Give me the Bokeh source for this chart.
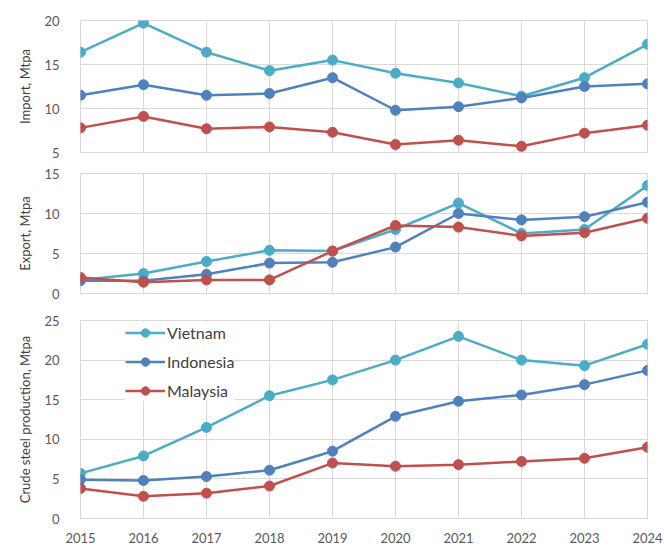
from bokeh.plotting import figure
from bokeh.layouts import column
from bokeh.models import Legend, LegendItem, FixedTicker, Range1d
from bokeh.embed import file_html
from bokeh.resources import INLINE

years = [2015, 2016, 2017, 2018, 2019, 2020, 2021, 2022, 2023, 2024]
countries = ["Vietnam", "Indonesia", "Malaysia"]
colors = {"Vietnam": "#4BACC6", "Indonesia": "#4F81BD", "Malaysia": "#C0504D"}

import_vietnam = [16.4, 19.7, 16.4, 14.3, 15.5, 14.0, 12.9, 11.4, 13.5, 17.3]
import_indonesia = [11.5, 12.7, 11.5, 11.7, 13.5, 9.8, 10.2, 11.2, 12.5, 12.8]
import_malaysia = [7.8, 9.1, 7.7, 7.9, 7.3, 5.9, 6.4, 5.7, 7.2, 8.1]

export_vietnam = [1.7, 2.5, 4.0, 5.4, 5.3, 8.0, 11.3, 7.5, 8.0, 13.5]
export_indonesia = [1.6, 1.6, 2.4, 3.8, 3.9, 5.8, 10.0, 9.2, 9.6, 11.4]
export_malaysia = [2.0, 1.4, 1.7, 1.7, 5.3, 8.5, 8.3, 7.2, 7.6, 9.4]

crude_vietnam = [5.7, 7.9, 11.5, 15.5, 17.5, 20.0, 23.0, 20.0, 19.3, 22.0]
crude_indonesia = [4.9, 4.8, 5.3, 6.1, 8.5, 12.9, 14.8, 15.6, 16.9, 18.7]
crude_malaysia = [3.8, 2.8, 3.2, 4.1, 7.0, 6.6, 6.8, 7.2, 7.6, 9.0]

panels = [
    ("Import, Mtpa", (5, 20), [5, 10, 15, 20],
     [import_vietnam, import_indonesia, import_malaysia]),
    ("Export, Mtpa", (0, 15), [0, 5, 10, 15],
     [export_vietnam, export_indonesia, export_malaysia]),
    ("Crude steel production, Mtpa", (0, 25), [0, 5, 10, 15, 20, 25],
     [crude_vietnam, crude_indonesia, crude_malaysia]),
]

FONT = "Lato"
frame_heights = [132, 120, 198]
tops = [20, 13, 19]
bottoms = [8, 8, 28]

figs = []
for i, (label, yr, yticks, series) in enumerate(panels):
    p = figure(frame_width=567, frame_height=frame_heights[i],
               min_border_left=80, min_border_right=17,
               min_border_top=tops[i], min_border_bottom=bottoms[i],
               x_range=Range1d(2015, 2024), y_range=Range1d(*yr),
               output_backend="svg", toolbar_location=None)
    p.background_fill_color = "white"
    p.border_fill_color = "white"
    p.outline_line_color = "#d9d9d9"
    p.xgrid.grid_line_color = "#d9d9d9"
    p.ygrid.grid_line_color = "#d9d9d9"
    p.xaxis.ticker = FixedTicker(ticks=years)
    p.yaxis.ticker = FixedTicker(ticks=yticks)
    p.yaxis.axis_label = label
    p.yaxis.axis_label_text_font = FONT
    p.yaxis.axis_label_text_font_style = "normal"
    p.yaxis.axis_label_text_font_size = "13px"
    p.yaxis.axis_label_text_color = "#404040"
    p.yaxis.axis_label_standoff = 8
    for ax in (p.xaxis, p.yaxis):
        ax.axis_line_color = None
        ax.major_tick_line_color = None
        ax.minor_tick_line_color = None
        ax.major_label_text_font = FONT
        ax.major_label_text_font_size = "13px"
        ax.major_label_text_color = "#595959"
    p.yaxis.major_label_standoff = 15
    p.xaxis.major_label_standoff = 8
    if i < 2:
        p.xaxis.visible = False
    items = []
    for name, vals in zip(countries, series):
        c = colors[name]
        r1 = p.line(years, vals, line_color=c, line_width=2.5)
        r2 = p.scatter(years, vals, size=10, fill_color=c, line_color=c)
        items.append(LegendItem(label=name, renderers=[r1, r2]))
    if i == 2:
        leg = Legend(items=items, location=(45, 117), glyph_width=40,
                     glyph_height=21, label_height=21, spacing=8, padding=0,
                     margin=0, label_standoff=2,
                     label_text_font=FONT, label_text_font_size="16px",
                     label_text_color="#404040",
                     background_fill_color="white", background_fill_alpha=1.0,
                     border_line_alpha=0)
        p.add_layout(leg, "center")
    figs.append(p)

layout = column(*figs, spacing=0)
open("out.html", "w").write(file_html(layout, INLINE))
